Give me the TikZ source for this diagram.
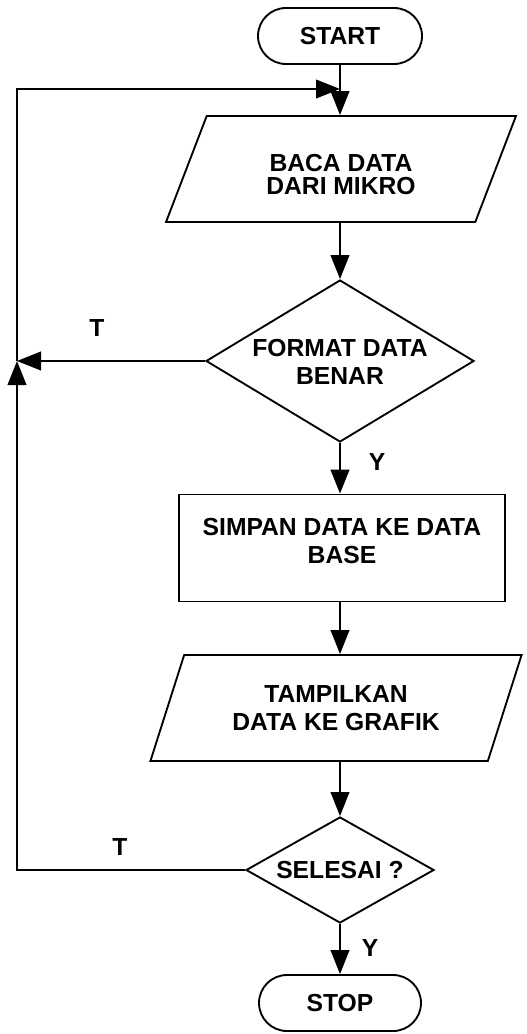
\documentclass[tikz,border=0pt]{standalone}
\usepackage{fontspec}
\setmainfont{Liberation Sans}
\usetikzlibrary{shapes.geometric,arrows.meta}
\newcommand{\twolines}[3]{\raisebox{#1}[\height][\depth]{\begin{tabular}{@{}c@{}}#2\\#3\end{tabular}}}
\newcommand{\narrow}[1]{\makebox[0pt]{#1}}
\begin{document}
\begin{tikzpicture}[x=0.75pt,y=-0.75pt,
  box/.style={draw, line width=1.4pt, font=\bfseries\fontsize{18.5}{21}\selectfont,
              align=center, inner sep=0pt},
  term/.style={box, rectangle, rounded corners=21pt, minimum width=123pt, minimum height=42pt},
  io/.style={box, trapezium, trapezium stretches=true, minimum height=79.5pt},
  proc/.style={box, rectangle, minimum width=244.5pt, minimum height=80.25pt},
  dec/.style={box, diamond, aspect=1},
  flow/.style={line width=1.4pt, -{Triangle[length=18pt,width=14pt]}},
  lbl/.style={font=\bfseries\fontsize{18.5}{21}\selectfont, inner sep=0pt}]
\useasboundingbox (0,0) rectangle (527,1034);

% process steps
\node[term] (start) at (340,36) {START};
\node[io, trapezium left angle=64, trapezium right angle=116, minimum width=262.5pt,
      font=\bfseries\fontsize{18.5}{17.5}\selectfont] (p1) at (341,169)
      {\renewcommand{\arraystretch}{0.85}\twolines{-6pt}{BACA DATA}{DARI MIKRO}};
\node[dec, minimum width=201pt, minimum height=121.5pt] (d1) at (340,361)
      {\narrow{\twolines{-3pt}{FORMAT DATA}{BENAR}}};
\node[proc] (r1) at (342,548) {\twolines{3pt}{SIMPAN DATA KE DATA}{BASE}};
\node[io, trapezium left angle=63, trapezium right angle=117, minimum width=279pt] (p2) at (336,708) {TAMPILKAN\\DATA KE GRAFIK};
\node[dec, minimum width=141pt, minimum height=79.5pt] (d2) at (340,870) {\narrow{SELESAI ?}};
\node[term, minimum width=121.5pt] (stop) at (340,1003) {STOP};

% return path on the left
\coordinate (tl) at (17,89);
\coordinate (jl) at (17,361);
\coordinate (bl) at (17,870);

% main flow
\draw[flow] (start.south) -- (start.south |- p1.north);
\draw[flow] (start.south |- p1.south) -- (d1.north);
\draw[flow] (d1.south) -- (d1.south |- r1.north);
\draw[flow] (d1.south |- r1.south) -- (d1.south |- p2.north);
\draw[flow] (d1.south |- p2.south) -- (d2.north);
\draw[flow] (d2.south) -- (stop.north);

% branches back to the reading step
\draw[flow] (d1.west) -- (jl);
\draw[flow] (d2.west) -- (bl) -- (jl);
\draw[flow] (jl) -- (tl) -- (start.south |- tl);

% branch labels
\node[lbl] (t1) at (97,328) {T};
\node[lbl] (y1) at (377,462) {Y};
\node[lbl] (t2) at (120,847) {T};
\node[lbl] (y2) at (370,948) {Y};
\end{tikzpicture}
\end{document}
